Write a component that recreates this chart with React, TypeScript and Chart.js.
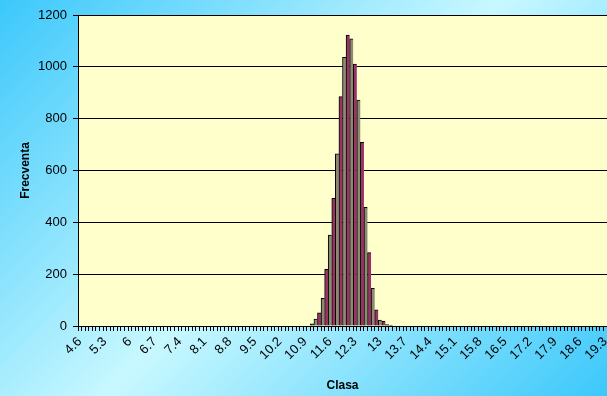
import React, { useEffect, useRef } from "react";
import { Chart, registerables } from "chart.js";

Chart.register(...registerables);

const categories: string[] = [
  "4.6", "4.7", "4.8", "4.9",
  "5", "5.1", "5.2", "5.3", "5.4", "5.5", "5.6", "5.7", "5.8", "5.9",
  "6", "6.1", "6.2", "6.3", "6.4", "6.5", "6.6", "6.7", "6.8", "6.9",
  "7", "7.1", "7.2", "7.3", "7.4", "7.5", "7.6", "7.7", "7.8", "7.9",
  "8", "8.1", "8.2", "8.3", "8.4", "8.5", "8.6", "8.7", "8.8", "8.9",
  "9", "9.1", "9.2", "9.3", "9.4", "9.5", "9.6", "9.7", "9.8", "9.9",
  "10", "10.1", "10.2", "10.3", "10.4", "10.5", "10.6", "10.7", "10.8", "10.9",
  "11", "11.1", "11.2", "11.3", "11.4", "11.5", "11.6", "11.7", "11.8", "11.9",
  "12", "12.1", "12.2", "12.3", "12.4", "12.5", "12.6", "12.7", "12.8", "12.9",
  "13", "13.1", "13.2", "13.3", "13.4", "13.5", "13.6", "13.7", "13.8", "13.9",
  "14", "14.1", "14.2", "14.3", "14.4", "14.5", "14.6", "14.7", "14.8", "14.9",
  "15", "15.1", "15.2", "15.3", "15.4", "15.5", "15.6", "15.7", "15.8", "15.9",
  "16", "16.1", "16.2", "16.3", "16.4", "16.5", "16.6", "16.7", "16.8", "16.9",
  "17", "17.1", "17.2", "17.3", "17.4", "17.5", "17.6", "17.7", "17.8", "17.9",
  "18", "18.1", "18.2", "18.3", "18.4", "18.5", "18.6", "18.7", "18.8", "18.9",
  "19", "19.1", "19.2", "19.3",
];

// Frecventa per class (4.6 .. 19.3)
const frequencies: number[] = [
  0, 0, 0, 0,
  0, 0, 0, 0, 0, 0, 0, 0, 0, 0,
  0, 0, 0, 0, 0, 0, 0, 0, 0, 0,
  0, 0, 0, 0, 0, 0, 0, 0, 0, 0,
  0, 0, 0, 0, 0, 0, 0, 0, 0, 0,
  0, 0, 0, 0, 0, 0, 0, 0, 0, 0,
  0, 0, 0, 0, 0, 0, 0, 0, 0, 0,
  0, 8, 27, 51, 107, 219, 351, 493, 664, 885,
  1037, 1123, 1108, 1011, 872, 709, 458, 283, 145, 62,
  23, 19, 5, 3, 0, 0, 0, 0, 0, 0,
  0, 0, 0, 0, 0, 0, 0, 0, 0, 0,
  0, 0, 0, 0, 0, 0, 0, 0, 0, 0,
  0, 0, 0, 0, 0, 0, 0, 0, 0, 0,
  0, 0, 0, 0, 0, 0, 0, 0, 0, 0,
  0, 0, 0, 0, 0, 0, 0, 0, 0, 0,
  0, 0, 0, 0,
];

const yTicks: number[] = [0, 200, 400, 600, 800, 1000, 1200];
const labelEvery = 7;

const FONT = "'Liberation Sans', Arial, sans-serif";

const plotBg = {
  id: "plotBg",
  beforeDraw(chart: any) {
    const { ctx, chartArea } = chart;
    if (!chartArea) return;
    ctx.save();
    ctx.fillStyle = "#ffffcc";
    ctx.fillRect(chartArea.left, chartArea.top, chartArea.right - chartArea.left, chartArea.bottom - chartArea.top);
    ctx.restore();
  },
};

export default function App() {
  const ref = useRef<HTMLCanvasElement | null>(null);

  useEffect(() => {
    if (!ref.current) return;
    const chart = new Chart(ref.current, {
      type: "bar",
      data: {
        labels: categories,
        datasets: [
          {
            label: "Frecventa",
            data: frequencies,
            backgroundColor: (c: any) => (c.dataIndex % 2 === 1 ? "#993366" : "#8c8a70"),
            borderColor: "#000000",
            borderWidth: { top: 1, left: 1, right: 0, bottom: 0 },
            borderSkipped: false,
            barPercentage: 1,
            categoryPercentage: 1,
          },
        ],
      },
      plugins: [plotBg],
      options: {
        responsive: false,
        animation: false,
        maintainAspectRatio: false,
        layout: { padding: { top: 15, right: 0, left: 0, bottom: 0 } },
        plugins: {
          legend: { display: false },
          tooltip: { enabled: false },
        },
        scales: {
          x: {
            offset: true,
            grid: {
              display: true,
              drawOnChartArea: false,
              drawTicks: true,
              tickLength: 5,
              color: "#000000",
              offset: true,
            },
            border: { display: true, color: "#000000", width: 1 },
            ticks: {
              autoSkip: false,
              minRotation: 45,
              maxRotation: 45,
              padding: 3,
              color: "#000000",
              font: { family: FONT, size: 13 },
              callback: (_v: any, i: number) => (i % labelEvery === 0 ? categories[i] : ""),
            },
            title: {
              display: true,
              text: "Clasa",
              color: "#000000",
              font: { family: FONT, size: 12, weight: "bold" },
              padding: { top: 0, bottom: 3 },
            },
            afterFit: (s: any) => {
              s.height = 70;
              s.paddingRight = 0;
              s.paddingLeft = 0;
            },
          },
          y: {
            min: 0,
            max: 1200,
            afterBuildTicks: (s: any) => {
              s.ticks = yTicks.map((v) => ({ value: v }));
            },
            grid: {
              color: "#000000",
              lineWidth: 1,
              drawTicks: true,
              tickLength: 5,
            },
            border: { display: true, color: "#000000", width: 1 },
            ticks: {
              padding: 6,
              color: "#000000",
              font: { family: FONT, size: 13 },
              callback: (v: any) => String(v),
            },
            title: {
              display: true,
              text: "Frecventa",
              color: "#000000",
              font: { family: FONT, size: 12, weight: "bold" },
              padding: { top: 18, bottom: 0 },
            },
            afterFit: (s: any) => {
              s.width = 78;
            },
          },
        },
      },
    });
    return () => chart.destroy();
  }, []);

  return (
    <div
      style={{
        position: "fixed",
        left: 0,
        top: 0,
        width: 607,
        height: 396,
        background: "linear-gradient(135deg, #3cc8fb 0%, #c8f8ff 50%, #3cc8fb 100%)",
      }}
    >
      <canvas ref={ref} width={607} height={396} style={{ display: "block", width: 607, height: 396 }} />
    </div>
  );
}
